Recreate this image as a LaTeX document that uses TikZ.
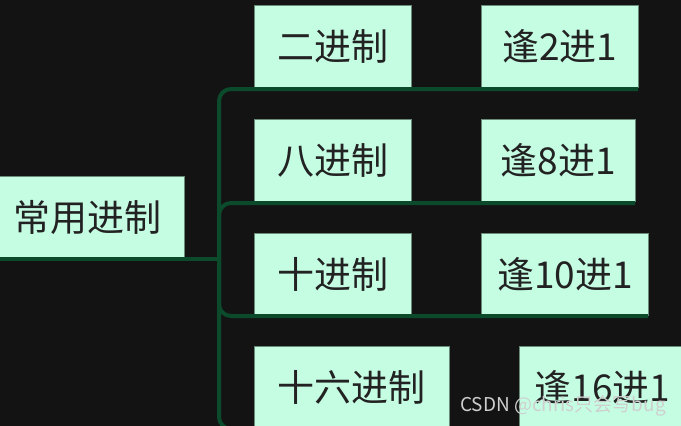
\documentclass[tikz,border=0pt]{standalone}
\usepackage{fontspec}
\setmainfont{Noto Sans CJK SC}
\definecolor{bg}{HTML}{131313}
\definecolor{mint}{HTML}{C5FDE3}
\definecolor{boxline}{HTML}{6A8A7A}
\definecolor{linegreen}{HTML}{0B4B2C}
\definecolor{ink}{HTML}{222222}
\definecolor{mark}{HTML}{CFCFCF}
\begin{document}
\begin{tikzpicture}[x=1pt,y=-1pt,
  box/.style={draw=boxline,line width=0.8pt,fill=mint,text=ink,
    font=\fontsize{37}{42}\selectfont,inner sep=0pt,anchor=north west,
    minimum height=82pt},
  branch/.style={draw=linegreen,line width=4pt,rounded corners=12pt}]
\fill[bg] (0,0) rectangle (681,426);
\useasboundingbox (0,0) rectangle (681,426);
\begin{scope}
\clip (0,0) rectangle (681,426);
% root
\node[box,minimum width=194pt] (root) at (-10,176) {常用进制};
% row 1
\node[box,minimum width=157pt] (b2) at (254,5) {二进制};
\node[box,minimum width=157pt] (r2) at (481,5) {逢2进1};
% row 2
\node[box,minimum width=157pt] (b8) at (254,119) {八进制};
\node[box,minimum width=154pt] (r8) at (481,119) {逢8进1};
% row 3
\node[box,minimum width=157pt] (b10) at (254,233) {十进制};
\node[box,minimum width=167pt] (r10) at (481,233) {逢10进1};
% row 4
\node[box,minimum width=195pt] (b16) at (254,346) {十六进制};
\node[box,minimum width=166pt] (r16) at (519,346) {逢16进1};
% connectors
\coordinate (trunk) at (219,259);
\coordinate (e1) at (638,89);
\coordinate (e2) at (635,203);
\coordinate (e3) at (648,316);
\coordinate (e4) at (690,429);
\draw[branch] (root.south west |- trunk) -- (trunk);
\draw[branch] (trunk) |- (e1);
\draw[branch] (trunk) |- (e2);
\draw[branch] (trunk) |- (e3);
\draw[branch] (trunk) |- (e4);
% watermark
\node[text=mark,font=\fontsize{19}{21}\selectfont,anchor=east,inner sep=0pt] (wm) at (666,406) {CSDN @chris只会写bug};
\end{scope}
\end{tikzpicture}
\end{document}
